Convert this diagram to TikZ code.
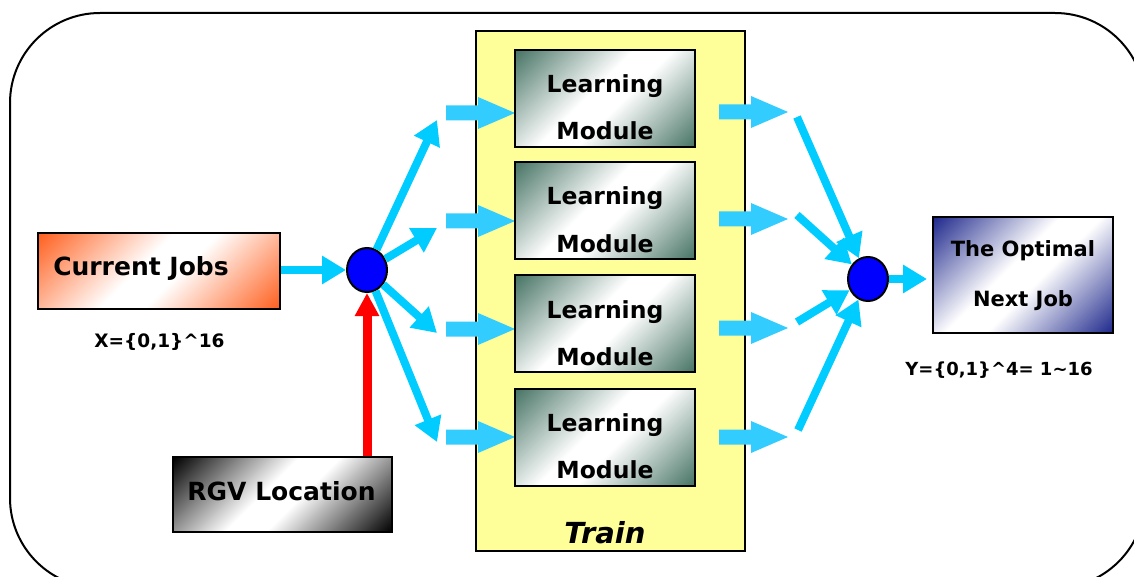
\documentclass[tikz,border=0pt]{standalone}
\usepackage{fontspec}
\setmainfont{DejaVu Sans}
\usetikzlibrary{arrows.meta,shapes.geometric}
\definecolor{cyanA}{RGB}{0,204,255}
\definecolor{cyanB}{RGB}{51,204,255}
\definecolor{trainyellow}{RGB}{255,255,153}
\definecolor{jobred}{RGB}{255,95,30}
\definecolor{modgreen}{RGB}{70,115,100}
\definecolor{optblue}{RGB}{30,40,140}
\definecolor{circblue}{RGB}{0,0,255}
\pgfdeclarehorizontalshading{diagjob}{100bp}{color(0bp)=(jobred); color(14.6bp)=(jobred); color(45bp)=(white); color(55bp)=(white); color(85.4bp)=(jobred); color(100bp)=(jobred)}
\pgfdeclarehorizontalshading{diagmod}{100bp}{color(0bp)=(modgreen); color(14.6bp)=(modgreen); color(45bp)=(white); color(55bp)=(white); color(85.4bp)=(modgreen); color(100bp)=(modgreen)}
\pgfdeclarehorizontalshading{diagrgv}{100bp}{color(0bp)=(black); color(14.6bp)=(black); color(45bp)=(white); color(55bp)=(white); color(85.4bp)=(black); color(100bp)=(black)}
\pgfdeclarehorizontalshading{diagopt}{100bp}{color(0bp)=(optblue); color(14.6bp)=(optblue); color(45bp)=(white); color(55bp)=(white); color(85.4bp)=(optblue); color(100bp)=(optblue)}
\begin{document}
\begin{tikzpicture}[x=1pt,y=-1pt,
  grad/.style={shading=#1, shading angle=-45},
  boxnode/.style={draw=black, line width=2pt, inner sep=0pt, rectangle},
  modbox/.style={boxnode, grad=diagmod, minimum width=180pt, minimum height=97pt},
  txt/.style={font=\fontsize{#1}{#1}\selectfont\bfseries, inner sep=0pt, anchor=base},
  dot/.style={ellipse, draw=black, line width=2pt, fill=circblue, minimum width=40pt, minimum height=44pt, inner sep=0pt},
  larrow/.style={draw=cyanA, line width=8pt, -{Triangle[length=24pt,width=27pt]}},
  rarrow/.style={draw=red, line width=9pt, -{Triangle[length=23pt,width=23pt]}},
  blockarrow/.pic={\fill[cyanB] (0,-7.5) -- (32,-7.5) -- (32,-16) -- (69,0) -- (32,16) -- (32,7.5) -- (0,7.5) -- cycle;}
]
\useasboundingbox (0,0) rectangle (1134,577);
\clip (0,0) rectangle (1134,577);
% outer frame
\draw[line width=2pt, rounded corners=90pt] (10,13) rectangle (1145,588);
% train panel
\node[boxnode, fill=trainyellow, minimum width=269pt, minimum height=520pt] (train) at (610.5,291) {};
\node[txt=28, font=\fontsize{29}{29}\selectfont\bfseries\itshape] (trainlbl) at (605,543) {Train};
% left block arrows
\foreach \y in {113,221,329,437} \pic at (446,\y) {blockarrow};
% learning modules
\foreach \i/\y in {1/98.5,2/210.5,3/323.5,4/437}{
  \node[modbox] (m\i) at (605,\y) {};
  \node[txt=23.5] (m\i a) at ([yshift=5.5pt]m\i.center) {Learning};
  \node[txt=23.5] (m\i b) at ([yshift=-41.5pt]m\i.center) {Module};
}
% right block arrows
\foreach \y in {112,219,328,437} \pic at (719,\y) {blockarrow};
% current jobs
\node[boxnode, grad=diagjob, minimum width=242pt, minimum height=76pt] (cj) at (159,271) {};
\node[txt=25] (cjlbl) at (141,275) {Current Jobs};
\node[txt=18.5] (xlbl) at (159.5,347) {X=\{0,1\}\^{}16};
% RGV
\node[boxnode, grad=diagrgv, minimum width=219pt, minimum height=75pt] (rgv) at (282.5,494.5) {};
\node[txt=25] (rgvlbl) at (281.5,500) {RGV Location};
% optimal
\node[boxnode, grad=diagopt, minimum width=180pt, minimum height=116pt] (opt) at (1023,275) {};
\node[txt=21] (opta) at (1023,257) {The Optimal};
\node[txt=21] (optb) at (1023,306) {Next Job};
\node[txt=18] (ylbl) at (999,375) {Y=\{0,1\}\^{}4= 1\textasciitilde16};
% circles
\node[dot] (cL) at (367,270) {};
\node[dot] (cR) at (868,279) {};
% fan out
\coordinate (t1) at (437,120);
\coordinate (t2) at (437,228);
\coordinate (t3) at (437,333);
\coordinate (t4) at (437,442);
\foreach \t in {t1,t2,t3,t4} \draw[larrow] (cL) -- (\t);
% fan in
\coordinate (s1) at (797,117);
\coordinate (s2) at (797,215);
\coordinate (s3) at (797,322);
\coordinate (s4) at (798,430);
\foreach \s in {s1,s2,s3,s4} \draw[larrow] (\s) -- (cR);
% inputs
\draw[larrow] (cj.east |- cL) -- (cL);
\draw[rarrow] (rgv.north -| cL) -- (cL);
\draw[larrow, shorten >=5pt] (cR) -- (cR -| opt.west);
\end{tikzpicture}
\end{document}
